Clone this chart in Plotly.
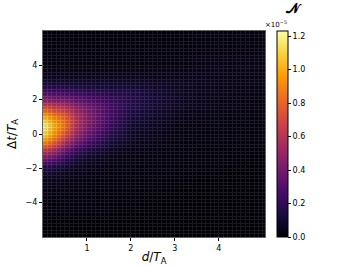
import plotly.graph_objects as go

# d/T_A sample positions (columns)
x_vals = [0, 0.25, 0.5, 0.75, 1.0, 1.5, 2.0, 2.5, 3.0, 3.5, 4.0, 4.5, 5.0]
# Δt/T_A sample positions (rows)
y_vals = [-6, -5, -4, -3, -2.5, -2, -1.5, -1, -0.5, 0, 0.5, 1, 1.5, 2, 2.5, 3, 3.5, 4, 5, 6]

# values in units of 1e-5, one list per column (x), ordered along y_vals
col_x000 = [0.01, 0.01, 0.02, 0.04, 0.07, 0.16, 0.36, 0.62, 0.92, 1.15, 1.22, 1.06, 0.78, 0.48, 0.25, 0.11, 0.05, 0.03, 0.02, 0.01]
col_x025 = [0.01, 0.01, 0.02, 0.04, 0.06, 0.13, 0.29, 0.52, 0.77, 0.96, 1.03, 0.92, 0.68, 0.44, 0.24, 0.11, 0.05, 0.03, 0.02, 0.01]
col_x050 = [0.01, 0.01, 0.02, 0.03, 0.05, 0.08, 0.18, 0.35, 0.55, 0.75, 0.85, 0.80, 0.63, 0.43, 0.23, 0.10, 0.05, 0.03, 0.02, 0.01]
col_x075 = [0.01, 0.01, 0.02, 0.03, 0.04, 0.06, 0.10, 0.22, 0.38, 0.52, 0.60, 0.60, 0.50, 0.36, 0.21, 0.10, 0.05, 0.03, 0.02, 0.01]
col_x100 = [0.01, 0.01, 0.02, 0.03, 0.03, 0.05, 0.07, 0.14, 0.26, 0.37, 0.44, 0.46, 0.42, 0.32, 0.19, 0.09, 0.05, 0.03, 0.02, 0.01]
col_x150 = [0.01, 0.01, 0.02, 0.02, 0.03, 0.03, 0.04, 0.07, 0.12, 0.18, 0.24, 0.27, 0.27, 0.24, 0.16, 0.09, 0.05, 0.03, 0.02, 0.01]
col_x200 = [0.01, 0.01, 0.01, 0.02, 0.02, 0.03, 0.03, 0.04, 0.06, 0.08, 0.10, 0.13, 0.16, 0.18, 0.15, 0.09, 0.05, 0.03, 0.02, 0.01]
col_x250 = [0.01, 0.01, 0.01, 0.02, 0.02, 0.02, 0.03, 0.03, 0.04, 0.05, 0.07, 0.09, 0.11, 0.12, 0.11, 0.08, 0.05, 0.03, 0.02, 0.01]
col_x300 = [0.01, 0.01, 0.01, 0.01, 0.02, 0.02, 0.02, 0.02, 0.03, 0.03, 0.04, 0.05, 0.07, 0.08, 0.08, 0.07, 0.05, 0.03, 0.02, 0.01]
col_x350 = [0.01, 0.01, 0.01, 0.01, 0.01, 0.02, 0.02, 0.02, 0.02, 0.03, 0.03, 0.04, 0.05, 0.06, 0.06, 0.06, 0.05, 0.04, 0.03, 0.02]
col_x400 = [0.01, 0.01, 0.01, 0.01, 0.01, 0.01, 0.02, 0.02, 0.02, 0.02, 0.03, 0.03, 0.04, 0.04, 0.05, 0.05, 0.05, 0.04, 0.03, 0.02]
col_x450 = [0.01, 0.01, 0.01, 0.01, 0.01, 0.01, 0.01, 0.02, 0.02, 0.02, 0.02, 0.03, 0.03, 0.04, 0.04, 0.04, 0.04, 0.04, 0.03, 0.02]
col_x500 = [0.01, 0.01, 0.01, 0.01, 0.01, 0.01, 0.01, 0.01, 0.02, 0.02, 0.02, 0.02, 0.03, 0.03, 0.03, 0.04, 0.04, 0.04, 0.03, 0.02]

columns = [col_x000, col_x025, col_x050, col_x075, col_x100, col_x150, col_x200,
           col_x250, col_x300, col_x350, col_x400, col_x450, col_x500]
z = [[columns[j][i] for j in range(len(x_vals))] for i in range(len(y_vals))]

cbar_ticks = [0.0, 0.2, 0.4, 0.6, 0.8, 1.0, 1.2]
x_ticks = [1, 2, 3, 4]
y_ticks = [-4, -2, 0, 2, 4]

FONT = "DejaVu Sans"

fig = go.Figure()
fig.add_trace(go.Heatmap(
    x=x_vals, y=y_vals, z=z,
    colorscale="Inferno", zmin=0, zmax=1.23,
    zsmooth="best", opacity=0.9,
    colorbar=dict(
        thickness=11, len=1.0, lenmode="fraction", y=0.5, yanchor="middle",
        x=1.054, xanchor="left", xpad=0, ypad=0,
        outlinewidth=1, outlinecolor="black",
        tickvals=cbar_ticks, tickformat=".1f",
        ticks="outside", ticklen=3, tickcolor="black",
        tickfont=dict(family=FONT, size=8, color="black"),
    ),
))

axis_common = dict(
    showline=True, mirror=True, linecolor="#666", linewidth=1,
    ticks="outside", ticklen=3, tickcolor="black",
    tickfont=dict(family=FONT, size=8, color="black"),
    zeroline=False, automargin=False,
)

fig.update_xaxes(
    range=[0, 5.05], tickvals=x_ticks, showgrid=True, gridcolor="white", gridwidth=1,
    minor=dict(dtick=0.1, showgrid=True, gridcolor="white", gridwidth=1, ticks=""),
    title=dict(text="<i>d</i>/<i>T</i><sub>A</sub>", font=dict(family=FONT, size=12, color="black"), standoff=6),
    **axis_common,
)
fig.update_yaxes(
    range=[-6, 6], tickvals=y_ticks, showgrid=True, gridcolor="white", gridwidth=1,
    minor=dict(dtick=0.2, showgrid=True, gridcolor="white", gridwidth=1, ticks=""),
    title=dict(text="Δ<i>t</i>/<i>T</i><sub>A</sub>", font=dict(family=FONT, size=12, color="black"), standoff=6),
    **axis_common,
)

fig.update_layout(
    width=354, height=266,
    margin=dict(l=43, r=89, t=31, b=29, autoexpand=False),
    paper_bgcolor="white", plot_bgcolor="#000004",
    font=dict(family=FONT, color="black"),
    annotations=[
        dict(text="×10<sup>−5</sup>", xref="paper", yref="paper", x=0.99, y=1.0,
             xanchor="left", yanchor="bottom", showarrow=False,
             font=dict(family=FONT, size=7, color="black")),
        dict(text="<b>𝒩</b>", xref="paper", yref="paper", x=1.13, y=1.065,
             xanchor="center", yanchor="bottom", showarrow=False,
             font=dict(family="DejaVu Serif", size=14, color="black")),
    ],
)

fig.write_html("out.html", config={"displayModeBar": False},
               post_script="document.body.style.margin='0';")
